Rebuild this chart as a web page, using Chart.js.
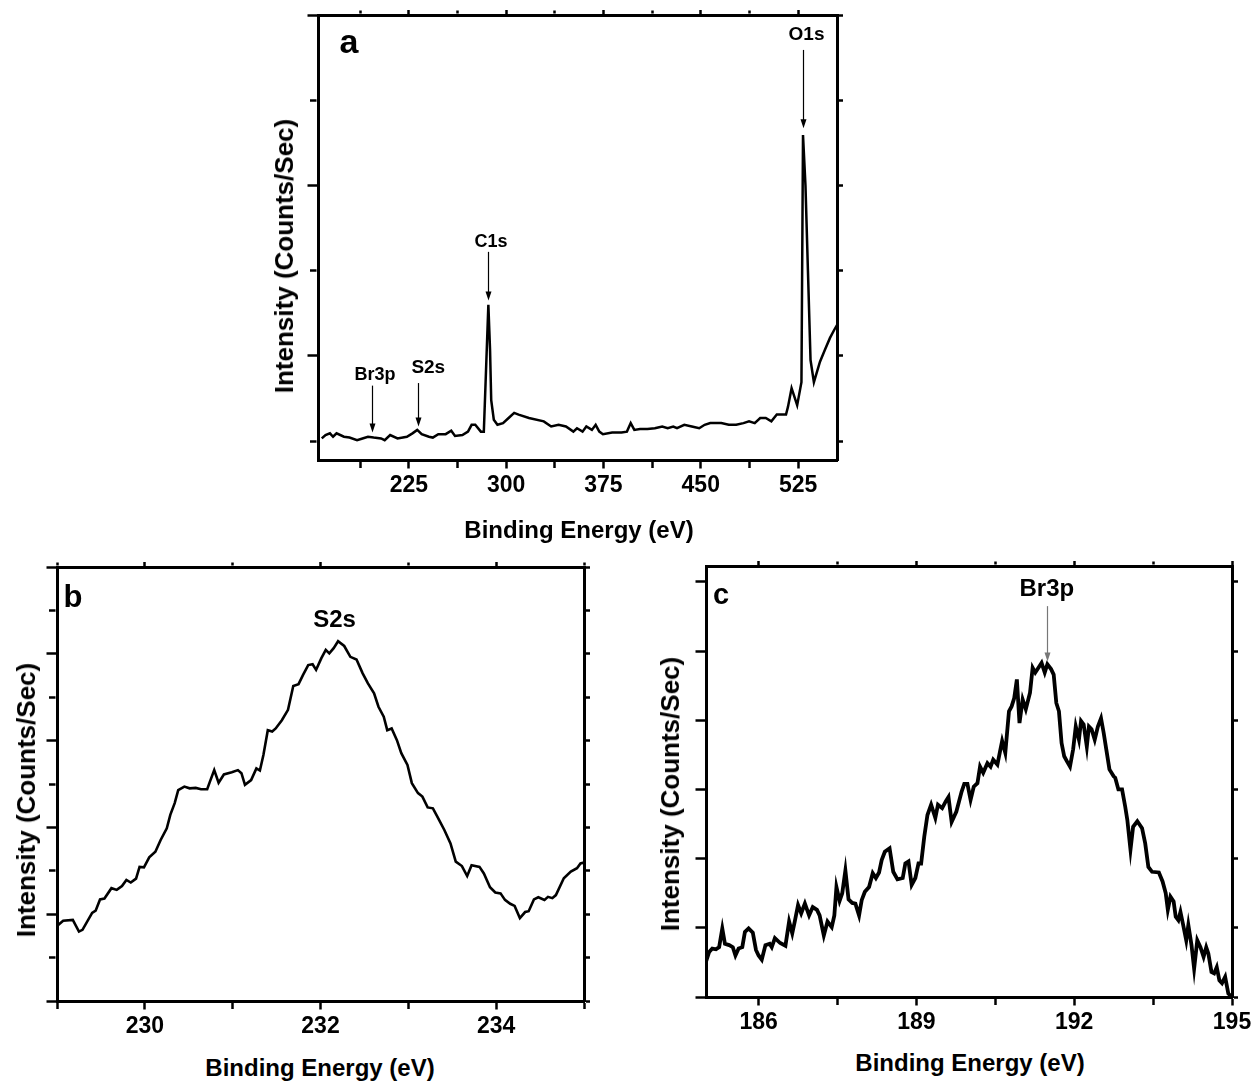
<!DOCTYPE html>
<html>
<head>
<meta charset="utf-8">
<title>XPS spectra</title>
<script src="https://cdn.jsdelivr.net/npm/chart.js@4.4.1/dist/chart.umd.min.js"></script>
<style>
  html, body { margin: 0; padding: 0; background: #fff; }
  body {
    width: 1259px; height: 1086px; position: relative; overflow: hidden;
    font-family: "Liberation Sans", Arial, sans-serif; font-weight: bold; color: #000;
  }
  .panel { position: absolute; }
  .txt { position: absolute; white-space: nowrap; line-height: 1; transform: translate(-50%, -50%); }
  .vtxt { transform: translate(-50%, -50%) rotate(-90deg); }
</style>
</head>
<body>

<div class="panel" style="left:270px; top:0; width:600px; height:500px"><canvas id="chartA"></canvas></div>
<div class="panel" style="left:0; top:540px; width:620px; height:500px"><canvas id="chartB"></canvas></div>
<div class="panel" style="left:640px; top:540px; width:619px; height:500px"><canvas id="chartC"></canvas></div>

<!-- axis titles and panel letters -->
<div class="txt" style="left:579px; top:530px; font-size:24px">Binding Energy (eV)</div>
<div class="txt vtxt" style="left:284px; top:256px; font-size:26px">Intensity (Counts/Sec)</div>
<div class="txt" style="left:349px; top:41px; font-size:34px">a</div>

<div class="txt" style="left:320px; top:1068px; font-size:24px">Binding Energy (eV)</div>
<div class="txt vtxt" style="left:26px; top:800px; font-size:26px">Intensity (Counts/Sec)</div>
<div class="txt" style="left:73px; top:596px; font-size:31px">b</div>

<div class="txt" style="left:970px; top:1063px; font-size:24px">Binding Energy (eV)</div>
<div class="txt vtxt" style="left:670px; top:794px; font-size:26px">Intensity (Counts/Sec)</div>
<div class="txt" style="left:721px; top:594px; font-size:29px">c</div>

<script>
/* ---- survey spectrum (a) ---- */
const A_ENERGY = [157.9, 160.8, 164.2, 166.6, 169.3, 175.0, 179.3, 185.1, 189.3, 193.5,
  197.9, 203.6, 206.4, 210.6, 216.3, 223.5, 227.8, 231.5, 234.9, 240.5,
  243.5, 247.7, 253.4, 257.7, 260.6, 266.3, 270.6, 273.4, 276.2, 280.5,
  282.8, 284.5, 286.3, 287.6, 288.5, 290.5, 293.3, 297.6, 301.9, 306.2,
  309.6, 317.6, 329.0, 334.7, 340.4, 346.1, 351.8, 354.6, 358.9, 361.8,
  366.1, 369.0, 371.8, 374.6, 381.7, 388.9, 393.1, 396.0, 398.8, 403.2,
  408.9, 414.6, 420.3, 424.5, 428.8, 431.7, 437.3, 443.1, 448.8, 453.0,
  457.3, 461.6, 465.8, 471.6, 477.3, 482.9, 487.2, 491.6, 495.8, 500.1,
  504.4, 508.6, 515.7, 517.2, 520.0, 524.3, 527.6, 528.8, 530.7, 532.6,
  534.6, 537.2, 541.9, 545.7, 549.6, 552.7, 555.0];
const A_COUNTS = [0.03, 0.07, 0.09, 0.05, 0.09, 0.05, 0.04, 0.01, 0.03, 0.05,
  0.04, 0.03, 0.01, 0.07, 0.03, 0.05, 0.09, 0.13, 0.08, 0.05,
  0.04, 0.08, 0.08, 0.12, 0.06, 0.07, 0.11, 0.19, 0.19, 0.11,
  0.11, 0.83, 1.60, 1.07, 0.48, 0.25, 0.19, 0.21, 0.27, 0.33,
  0.31, 0.27, 0.23, 0.17, 0.19, 0.17, 0.11, 0.15, 0.11, 0.17,
  0.13, 0.19, 0.11, 0.08, 0.10, 0.10, 0.11, 0.21, 0.13, 0.14,
  0.14, 0.15, 0.17, 0.15, 0.17, 0.15, 0.19, 0.17, 0.15, 0.19,
  0.21, 0.21, 0.21, 0.19, 0.19, 0.21, 0.23, 0.21, 0.27, 0.27,
  0.23, 0.31, 0.31, 0.40, 0.62, 0.42, 0.69, 3.59, 3.00, 2.00,
  0.95, 0.69, 0.93, 1.07, 1.21, 1.30, 1.36];
const A_XTICKS = [187.5, 225, 262.5, 300, 337.5, 375, 412.5, 450, 487.5, 525];
const A_XLABELS = [225, 300, 375, 450, 525];
const A_YTICKS = [0, 1, 2, 3, 4, 5];
const A_YMAJOR = [1, 3, 5];

/* ---- S 2s region (b) ---- */
const B_ENERGY = [229.0, 229.07, 229.18, 229.25, 229.29, 229.40, 229.44, 229.49, 229.54, 229.62,
  229.68, 229.74, 229.79, 229.84, 229.90, 229.94, 229.99, 230.05, 230.12, 230.18,
  230.25, 230.29, 230.34, 230.38, 230.45, 230.51, 230.58, 230.64, 230.71, 230.74,
  230.79, 230.84, 230.90, 230.99, 231.06, 231.10, 231.14, 231.21, 231.27, 231.31,
  231.35, 231.40, 231.45, 231.49, 231.56, 231.63, 231.69, 231.75, 231.80, 231.86,
  231.91, 231.95, 232.01, 232.06, 232.10, 232.15, 232.20, 232.27, 232.34, 232.41,
  232.48, 232.54, 232.61, 232.66, 232.72, 232.76, 232.81, 232.87, 232.92, 232.99,
  233.04, 233.11, 233.16, 233.22, 233.28, 233.33, 233.41, 233.48, 233.54, 233.61,
  233.67, 233.72, 233.81, 233.86, 233.93, 233.99, 234.05, 234.10, 234.16, 234.21,
  234.27, 234.33, 234.37, 234.43, 234.48, 234.55, 234.59, 234.64, 234.68, 234.77,
  234.85, 234.92, 234.96, 235.0];
const B_COUNTS = [1.73, 1.85, 1.87, 1.60, 1.64, 2.03, 2.08, 2.34, 2.36, 2.60,
  2.56, 2.65, 2.79, 2.73, 2.82, 3.09, 3.08, 3.31, 3.44, 3.71,
  3.98, 4.29, 4.56, 4.86, 4.94, 4.90, 4.91, 4.88, 4.88, 5.05,
  5.32, 5.03, 5.22, 5.27, 5.32, 5.25, 4.98, 5.09, 5.36, 5.31,
  5.67, 6.24, 6.21, 6.28, 6.47, 6.71, 7.26, 7.30, 7.51, 7.74,
  7.76, 7.63, 7.90, 8.09, 8.01, 8.13, 8.29, 8.18, 7.93, 7.87,
  7.55, 7.32, 7.09, 6.78, 6.55, 6.24, 6.28, 6.01, 5.71, 5.44,
  5.02, 4.79, 4.71, 4.46, 4.44, 4.25, 3.94, 3.63, 3.21, 3.11,
  2.88, 3.13, 3.09, 2.94, 2.62, 2.50, 2.48, 2.33, 2.24, 2.19,
  1.91, 2.05, 2.07, 2.34, 2.39, 2.33, 2.40, 2.37, 2.44, 2.83,
  2.98, 3.06, 3.17, 3.19];
const B_XTICKS = [229, 230, 231, 232, 233, 234, 235];
const B_XLABELS = [230, 232, 234];
const B_YTICKS = [0, 1, 2, 3, 4, 5, 6, 7, 8, 9, 10];
const B_YMAJOR = [0, 2, 4, 6, 8, 10];

/* ---- Br 3p region (c) ---- */
const C_ENERGY = [185.0, 185.06, 185.12, 185.19, 185.25, 185.31, 185.36, 185.44, 185.51, 185.56,
  185.62, 185.69, 185.74, 185.81, 185.89, 185.95, 186.00, 186.06, 186.13, 186.21,
  186.25, 186.31, 186.41, 186.51, 186.58, 186.64, 186.69, 186.75, 186.81, 186.88,
  186.96, 187.03, 187.11, 187.16, 187.24, 187.31, 187.39, 187.44, 187.48, 187.54,
  187.59, 187.65, 187.71, 187.78, 187.84, 187.91, 187.96, 188.02, 188.10, 188.17,
  188.23, 188.29, 188.34, 188.40, 188.49, 188.56, 188.64, 188.74, 188.79, 188.85,
  188.91, 188.98, 189.04, 189.09, 189.15, 189.21, 189.28, 189.36, 189.41, 189.49,
  189.56, 189.61, 189.67, 189.76, 189.86, 189.91, 189.97, 190.03, 190.09, 190.16,
  190.21, 190.27, 190.35, 190.41, 190.46, 190.54, 190.59, 190.63, 190.69, 190.76,
  190.81, 190.86, 190.91, 190.96, 191.02, 191.08, 191.16, 191.21, 191.26, 191.32,
  191.38, 191.44, 191.49, 191.56, 191.61, 191.66, 191.71, 191.76, 191.81, 191.86,
  191.92, 191.98, 192.03, 192.09, 192.13, 192.18, 192.24, 192.28, 192.33, 192.39,
  192.45, 192.51, 192.56, 192.61, 192.67, 192.75, 192.78, 192.84, 192.91, 192.97,
  193.01, 193.07, 193.12, 193.20, 193.29, 193.35, 193.41, 193.48, 193.61, 193.68,
  193.74, 193.78, 193.83, 193.89, 193.93, 193.98, 194.02, 194.08, 194.13, 194.17,
  194.23, 194.28, 194.34, 194.40, 194.46, 194.51, 194.55, 194.61, 194.66, 194.71,
  194.76, 194.81, 194.87, 194.93, 195.0];
const C_COUNTS = [0.51, 0.65, 0.70, 0.69, 0.72, 0.99, 0.77, 0.75, 0.72, 0.60,
  0.70, 0.72, 0.94, 0.99, 0.93, 0.68, 0.60, 0.54, 0.75, 0.77,
  0.72, 0.85, 0.78, 0.74, 1.09, 0.92, 1.10, 1.33, 1.21, 1.35,
  1.18, 1.30, 1.26, 1.18, 0.89, 1.09, 1.01, 1.18, 1.59, 1.39,
  1.50, 1.83, 1.41, 1.36, 1.35, 1.18, 1.40, 1.52, 1.59, 1.79,
  1.72, 1.80, 1.98, 2.10, 2.15, 1.81, 1.70, 1.72, 1.93, 1.96,
  1.62, 1.72, 1.93, 1.93, 2.32, 2.63, 2.78, 2.59, 2.78, 2.73,
  2.83, 2.89, 2.53, 2.68, 2.97, 3.08, 3.08, 2.85, 3.04, 3.09,
  3.33, 3.24, 3.38, 3.33, 3.43, 3.36, 3.55, 3.70, 3.53, 4.13,
  4.20, 4.32, 4.59, 3.96, 4.30, 4.16, 4.40, 4.76, 4.69, 4.76,
  4.83, 4.69, 4.81, 4.74, 4.66, 4.25, 4.13, 3.67, 3.48, 3.41,
  3.33, 3.58, 3.91, 3.72, 3.99, 3.94, 3.62, 3.91, 3.87, 3.72,
  3.91, 4.03, 3.82, 3.58, 3.29, 3.19, 3.17, 3.00, 3.00, 2.75,
  2.56, 2.13, 2.46, 2.54, 2.44, 2.22, 1.88, 1.81, 1.80, 1.67,
  1.50, 1.26, 1.45, 1.38, 1.16, 1.11, 1.23, 1.01, 0.82, 1.04,
  0.75, 0.41, 0.82, 0.72, 0.58, 0.72, 0.63, 0.36, 0.34, 0.43,
  0.24, 0.20, 0.29, 0.05, 0.00];
const C_XTICKS = [186, 187.5, 189, 190.5, 192, 193.5, 195];
const C_XLABELS = [186, 189, 192, 195];
const C_YTICKS = [0, 1, 2, 3, 4, 5, 6];
const C_YMAJOR = [0, 1, 2, 3, 4, 5, 6];

const FONT = '"Liberation Sans", Arial, sans-serif';

// tick lengths per side: [major, minor]; left ticks are long, top/right ones are stubs
const TICK_LEN = {
  bottom: [8.5, 6],
  top: [5, 3],
  left: [10.5, 6.5],
  right: [6, 4]
};

// one side of the boxed frame: border line plus outward ticks, long for major, short for minor
function frameAxis(o) {
  const isMajor = v => o.major.includes(v);
  const [tickLen, minorLen] = TICK_LEN[o.position];
  const visible = tickLen - 1.5;
  const outerFirst = o.position === 'top' || o.position === 'left';
  return {
    type: 'linear',
    axis: o.axis,
    position: o.position,
    min: o.min,
    max: o.max,
    afterBuildTicks: s => { s.ticks = o.ticks.map(v => ({ value: v })); },
    afterFit: s => { if (o.axis === 'x') s.height = o.size; else s.width = o.size; },
    ticks: {
      display: !!o.labels,
      autoSkip: false,
      maxRotation: 0,
      padding: 3.5,
      color: '#000',
      font: { family: FONT, size: 23, weight: 'bold' },
      callback: v => isMajor(v) ? String(v) : ''
    },
    grid: {
      drawOnChartArea: false,
      drawTicks: true,
      tickLength: tickLen,
      tickWidth: 2.5,
      tickColor: '#000',
      tickBorderDash: c => (c.tick && !isMajor(c.tick.value)) ? [minorLen, Math.max(visible - minorLen, 0.1)] : [],
      tickBorderDashOffset: c => (c.tick && !isMajor(c.tick.value) && outerFirst) ? minorLen : 0
    },
    border: { display: true, color: '#000', width: 3 }
  };
}

// peak labels with downward arrows, placed in data units
const peakMarks = {
  id: 'peakMarks',
  afterDatasetsDraw(chart, args, opts) {
    const { ctx, scales: { x, y } } = chart;
    (opts.items || []).forEach(m => {
      ctx.save();
      ctx.fillStyle = '#000';
      ctx.font = 'bold ' + m.size + 'px ' + FONT;
      ctx.textAlign = 'center';
      ctx.textBaseline = 'middle';
      ctx.fillText(m.text, x.getPixelForValue(m.tx), y.getPixelForValue(m.ty));
      if (m.from !== undefined) {
        const px = Math.round(x.getPixelForValue(m.x)) + 0.5;
        const y0 = y.getPixelForValue(m.from);
        const y1 = y.getPixelForValue(m.to);
        ctx.strokeStyle = m.color || '#000';
        ctx.fillStyle = m.color || '#000';
        ctx.lineWidth = 1.2;
        ctx.beginPath();
        ctx.moveTo(px, y0);
        ctx.lineTo(px, y1 - 6);
        ctx.stroke();
        ctx.beginPath();
        ctx.moveTo(px - 3, y1 - 9);
        ctx.lineTo(px + 3, y1 - 9);
        ctx.lineTo(px, y1);
        ctx.closePath();
        ctx.fill();
      }
      ctx.restore();
    });
  }
};

function spectrumChart(id, p) {
  return new Chart(document.getElementById(id), {
    type: 'line',
    data: {
      datasets: [{
        data: p.energy.map((e, i) => ({ x: e, y: p.counts[i] })),
        borderColor: '#000',
        borderWidth: p.lineWidth,
        pointRadius: 0,
        tension: 0,
        fill: false
      }]
    },
    options: {
      responsive: true,
      maintainAspectRatio: false,
      animation: false,
      layout: { padding: 0 },
      plugins: {
        legend: { display: false },
        tooltip: { enabled: false },
        peakMarks: { items: p.marks }
      },
      scales: {
        x: frameAxis({ axis: 'x', position: 'bottom', min: p.xmin, max: p.xmax, ticks: p.xticks, major: p.xmajor, labels: true, size: p.pad[3] }),
        x2: frameAxis({ axis: 'x', position: 'top', min: p.xmin, max: p.xmax, ticks: p.xticks, major: p.xmajor, labels: false, size: p.pad[0] }),
        y: frameAxis({ axis: 'y', position: 'left', min: p.ymin, max: p.ymax, ticks: p.yticks, major: p.ymajor, labels: false, size: p.pad[1] }),
        y2: frameAxis({ axis: 'y', position: 'right', min: p.ymin, max: p.ymax, ticks: p.yticks, major: p.ymajor, labels: false, size: p.pad[2] })
      }
    },
    plugins: [peakMarks]
  });
}

spectrumChart('chartA', {
  energy: A_ENERGY, counts: A_COUNTS, lineWidth: 2.5,
  xmin: 155, xmax: 555, xticks: A_XTICKS, xmajor: A_XLABELS,
  ymin: -0.223, ymax: 5, yticks: A_YTICKS, ymajor: A_YMAJOR,
  pad: [15, 48, 33, 40],
  marks: [
    { text: 'O1s', size: 19, tx: 531.5, ty: 4.77, x: 528.8, from: 4.59, to: 3.67 },
    { text: 'C1s', size: 18, tx: 288.3, ty: 2.33, x: 286.3, from: 2.22, to: 1.65 },
    { text: 'S2s', size: 19, tx: 240.0, ty: 0.86, x: 231.9, from: 0.68, to: 0.17 },
    { text: 'Br3p', size: 18, tx: 198.9, ty: 0.77, x: 196.6, from: 0.65, to: 0.10 }
  ]
});

spectrumChart('chartB', {
  energy: B_ENERGY, counts: B_COUNTS, lineWidth: 2.6,
  xmin: 229, xmax: 235, xticks: B_XTICKS, xmajor: B_XLABELS,
  ymin: 0, ymax: 10, yticks: B_YTICKS, ymajor: B_YMAJOR,
  pad: [27, 57, 36, 39],
  marks: [
    { text: 'S2s', size: 24, tx: 232.16, ty: 8.76 }
  ]
});

spectrumChart('chartC', {
  energy: C_ENERGY, counts: C_COUNTS, lineWidth: 3.8,
  xmin: 185, xmax: 195, xticks: C_XTICKS, xmajor: C_XLABELS,
  ymin: 0, ymax: 6.23, yticks: C_YTICKS, ymajor: C_YMAJOR,
  pad: [26, 66, 27, 43],
  marks: [
    { text: 'Br3p', size: 24, tx: 191.48, ty: 5.89, x: 191.48, from: 5.65, to: 4.85, color: '#777' }
  ]
});
</script>
</body>
</html>
